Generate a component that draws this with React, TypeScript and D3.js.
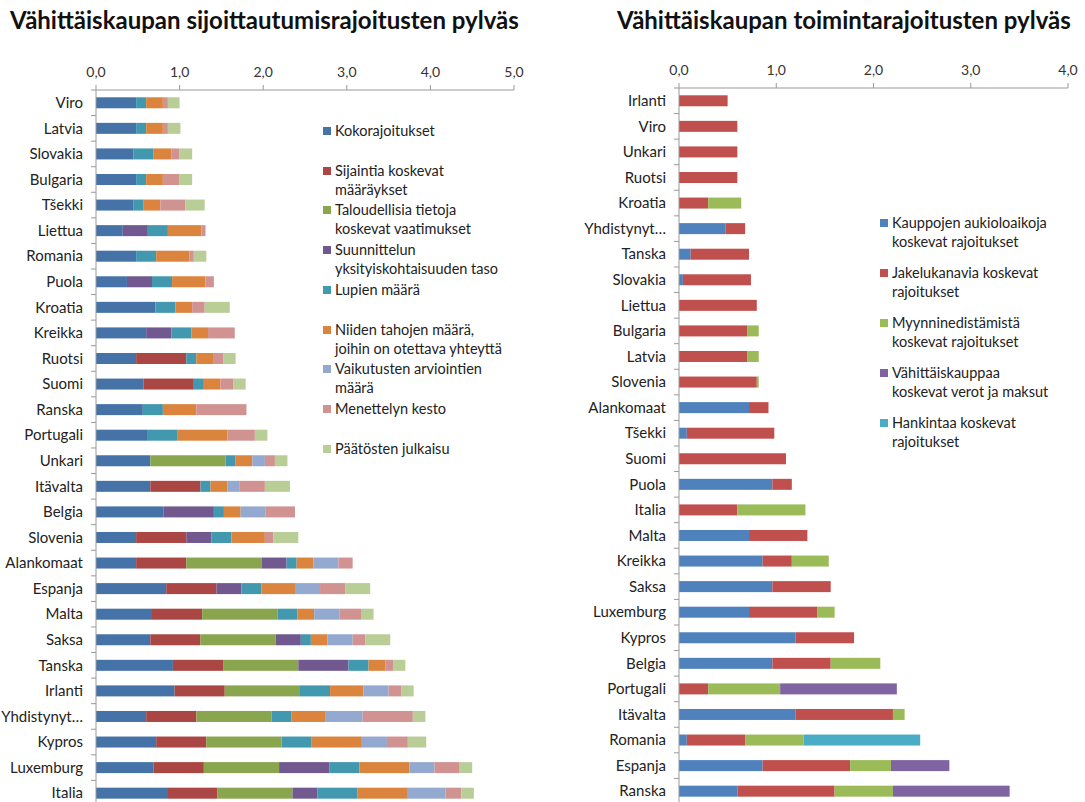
import React, { useEffect, useRef } from "react";
import * as d3 from "d3";

// --- left chart: sijoittautumisrajoitukset ---
const leftCountries = ["Viro", "Latvia", "Slovakia", "Bulgaria", "Tšekki", "Liettua", "Romania", "Puola", "Kroatia", "Kreikka", "Ruotsi", "Suomi", "Ranska", "Portugali", "Unkari", "Itävalta", "Belgia", "Slovenia", "Alankomaat", "Espanja", "Malta", "Saksa", "Tanska", "Irlanti", "Yhdistynyt…", "Kypros", "Luxemburg", "Italia"];
const leftSeriesNames = ["Kokorajoitukset", "Sijaintia koskevat määräykset", "Taloudellisia tietoja koskevat vaatimukset", "Suunnittelun yksityiskohtaisuuden taso", "Lupien määrä", "Niiden tahojen määrä, joihin on otettava yhteyttä", "Vaikutusten arviointien määrä", "Menettelyn kesto", "Päätösten julkaisu"];
const kokorajoitukset = [0.48, 0.48, 0.45, 0.48, 0.45, 0.32, 0.48, 0.37, 0.71, 0.6, 0.48, 0.57, 0.56, 0.61, 0.65, 0.65, 0.81, 0.48, 0.48, 0.84, 0.67, 0.65, 0.92, 0.94, 0.6, 0.72, 0.69, 0.85];
const sijaintia = [0, 0, 0, 0, 0, 0, 0, 0, 0, 0, 0.6, 0.6, 0, 0, 0, 0.6, 0, 0.6, 0.6, 0.6, 0.6, 0.6, 0.6, 0.6, 0.6, 0.6, 0.6, 0.6];
const taloudellisia = [0, 0, 0, 0, 0, 0, 0, 0, 0, 0, 0, 0, 0, 0, 0.9, 0, 0, 0, 0.9, 0, 0.9, 0.9, 0.9, 0.9, 0.9, 0.9, 0.9, 0.9];
const suunnittelun = [0, 0, 0, 0, 0, 0.3, 0, 0.3, 0, 0.3, 0, 0, 0, 0, 0, 0, 0.6, 0.3, 0.3, 0.3, 0, 0.3, 0.6, 0, 0, 0, 0.6, 0.3];
const lupien = [0.12, 0.12, 0.24, 0.12, 0.12, 0.24, 0.24, 0.24, 0.24, 0.24, 0.12, 0.12, 0.24, 0.36, 0.12, 0.12, 0.12, 0.24, 0.12, 0.24, 0.24, 0.12, 0.24, 0.36, 0.24, 0.36, 0.36, 0.48];
const tahojen = [0.2, 0.2, 0.21, 0.2, 0.2, 0.4, 0.4, 0.4, 0.2, 0.2, 0.2, 0.2, 0.4, 0.6, 0.2, 0.2, 0.2, 0.4, 0.2, 0.4, 0.2, 0.2, 0.2, 0.4, 0.4, 0.6, 0.6, 0.6];
const vaikutusten = [0, 0, 0, 0, 0, 0, 0, 0, 0, 0, 0, 0, 0, 0, 0.15, 0.15, 0.3, 0, 0.3, 0.3, 0.3, 0.3, 0, 0.3, 0.45, 0.3, 0.3, 0.45];
const menettelyn = [0.06, 0.06, 0.1, 0.2, 0.3, 0.05, 0.05, 0.1, 0.15, 0.32, 0.12, 0.15, 0.6, 0.33, 0.12, 0.3, 0.35, 0.1, 0.17, 0.3, 0.26, 0.15, 0.1, 0.15, 0.6, 0.25, 0.3, 0.19];
const paatosten = [0.14, 0.15, 0.15, 0.15, 0.23, 0, 0.15, 0, 0.3, 0, 0.15, 0.15, 0, 0.15, 0.15, 0.3, 0, 0.3, 0, 0.3, 0.15, 0.3, 0.14, 0.15, 0.15, 0.22, 0.15, 0.15];
const leftTicks = [0, 1, 2, 3, 4, 5];

// --- right chart: toimintarajoitukset ---
const rightCountries = ["Irlanti", "Viro", "Unkari", "Ruotsi", "Kroatia", "Yhdistynyt…", "Tanska", "Slovakia", "Liettua", "Bulgaria", "Latvia", "Slovenia", "Alankomaat", "Tšekki", "Suomi", "Puola", "Italia", "Malta", "Kreikka", "Saksa", "Luxemburg", "Kypros", "Belgia", "Portugali", "Itävalta", "Romania", "Espanja", "Ranska"];
const rightSeriesNames = ["Kauppojen aukioloaikoja koskevat rajoitukset", "Jakelukanavia koskevat rajoitukset", "Myynninedistämistä koskevat rajoitukset", "Vähittäiskauppaa koskevat verot ja maksut", "Hankintaa koskevat rajoitukset"];
const aukioloajat = [0, 0, 0, 0, 0, 0.48, 0.12, 0.04, 0, 0, 0, 0, 0.72, 0.08, 0, 0.96, 0, 0.72, 0.86, 0.96, 0.72, 1.2, 0.96, 0, 1.2, 0.08, 0.86, 0.6];
const jakelukanavat = [0.5, 0.6, 0.6, 0.6, 0.3, 0.2, 0.6, 0.7, 0.8, 0.7, 0.7, 0.8, 0.2, 0.9, 1.1, 0.2, 0.6, 0.6, 0.3, 0.6, 0.7, 0.6, 0.6, 0.3, 1.0, 0.6, 0.9, 1.0];
const myynninedistaminen = [0, 0, 0, 0, 0.34, 0, 0, 0, 0, 0.12, 0.12, 0.02, 0, 0, 0, 0, 0.7, 0, 0.38, 0, 0.18, 0, 0.51, 0.74, 0.12, 0.6, 0.42, 0.6];
const verot = [0, 0, 0, 0, 0, 0, 0, 0, 0, 0, 0, 0, 0, 0, 0, 0, 0, 0, 0, 0, 0, 0, 0, 1.2, 0, 0, 0.6, 1.2];
const hankinta = [0, 0, 0, 0, 0, 0, 0, 0, 0, 0, 0, 0, 0, 0, 0, 0, 0, 0, 0, 0, 0, 0, 0, 0, 0, 1.2, 0, 0];
const rightTicks = [0, 1, 2, 3, 4];

const leftColors = ["#4572A7", "#AA4643", "#89A54E", "#71588F", "#4198AF", "#DB843D", "#93A9CF", "#D19392", "#B9CD96"];
const rightColors = ["#4F81BD", "#C0504D", "#9BBB59", "#8064A2", "#4BACC6"];

// legend lines (wrapped like the original)
const leftLegend = [
  { lines: ["Kokorajoitukset"], y: 131 },
  { lines: ["Sijaintia koskevat", "määräykset"], y: 171 },
  { lines: ["Taloudellisia tietoja", "koskevat vaatimukset"], y: 210 },
  { lines: ["Suunnittelun", "yksityiskohtaisuuden taso"], y: 250 },
  { lines: ["Lupien määrä"], y: 290 },
  { lines: ["Niiden tahojen määrä,", "joihin on otettava yhteyttä"], y: 330 },
  { lines: ["Vaikutusten arviointien", "määrä"], y: 369 },
  { lines: ["Menettelyn kesto"], y: 409 },
  { lines: ["Päätösten julkaisu"], y: 449 },
];
const rightLegend = [
  { lines: ["Kauppojen aukioloaikoja", "koskevat rajoitukset"], y: 223 },
  { lines: ["Jakelukanavia koskevat", "rajoitukset"], y: 273 },
  { lines: ["Myynninedistämistä", "koskevat rajoitukset"], y: 323 },
  { lines: ["Vähittäiskauppaa", "koskevat verot ja maksut"], y: 373 },
  { lines: ["Hankintaa koskevat", "rajoitukset"], y: 423 },
];

const FONT = "Lato, 'Open Sans', sans-serif";

function drawChart(svg, opts) {
  const { title, titleX, countries, series, colors, ticks, x0, x1, yTop, labelX, legend, legX } = opts;
  const n = countries.length;
  const step = 25.57;
  const x = d3.scaleLinear().domain([0, ticks[ticks.length - 1]]).range([x0, x1]);
  const y = d3.scaleBand().domain(countries).range([yTop, yTop + step * n]).paddingInner(0.57).paddingOuter(0.285);

  svg.append("text").attr("x", titleX).attr("y", 29).attr("font-family", FONT).attr("font-weight", 700)
    .attr("font-size", 24).attr("fill", "#111").text(title);

  // stacked data
  const rows = countries.map((c, i) => {
    const r = { country: c };
    series.forEach((s, k) => { r["s" + k] = s[i]; });
    return r;
  });
  const stack = d3.stack().keys(series.map((_, k) => "s" + k));
  const layers = stack(rows);

  const g = svg.append("g");
  layers.forEach((layer, k) => {
    g.selectAll(null).data(layer.filter(d => d[1] - d[0] > 0)).enter().append("rect")
      .attr("x", d => x(d[0]))
      .attr("width", d => x(d[1]) - x(d[0]))
      .attr("y", d => y(d.data.country))
      .attr("height", y.bandwidth())
      .attr("fill", colors[k]);
  });

  // top axis
  const axis = svg.append("g");
  axis.append("line").attr("x1", x0).attr("x2", x1).attr("y1", yTop).attr("y2", yTop).attr("stroke", "#999");
  ticks.forEach(t => {
    axis.append("line").attr("x1", x(t)).attr("x2", x(t)).attr("y1", yTop - 5).attr("y2", yTop).attr("stroke", "#999");
    axis.append("text").attr("x", x(t)).attr("y", yTop - 13).attr("text-anchor", "middle")
      .attr("font-family", FONT).attr("font-size", 14).attr("fill", "#333")
      .text(d3.format(".1f")(t).replace(".", ","));
  });

  // category axis
  axis.append("line").attr("x1", x0).attr("x2", x0).attr("y1", yTop).attr("y2", yTop + step * n).attr("stroke", "#999");
  d3.range(n + 1).forEach(i => {
    const yy = yTop + step * i;
    axis.append("line").attr("x1", x0 - 5).attr("x2", x0).attr("y1", yy).attr("y2", yy).attr("stroke", "#999");
  });
  countries.forEach(c => {
    axis.append("text").attr("x", labelX).attr("y", y(c) + y.bandwidth() / 2).attr("dy", "0.35em")
      .attr("text-anchor", "end").attr("font-family", FONT).attr("font-size", 15).attr("fill", "#222").text(c);
  });

  // legend
  const lg = svg.append("g");
  legend.forEach((item, k) => {
    lg.append("rect").attr("x", legX).attr("y", item.y - 4).attr("width", 8).attr("height", 8).attr("fill", colors[k]);
    item.lines.forEach((line, j) => {
      lg.append("text").attr("x", legX + 12).attr("y", item.y + j * 19).attr("dy", "0.35em")
        .attr("font-family", FONT).attr("font-size", 14.5).attr("fill", "#222").text(line);
    });
  });
}

export default function App() {
  const ref = useRef(null);

  useEffect(() => {
    const svg = d3.select(ref.current);
    svg.selectAll("*").remove();
    drawChart(svg, {
      title: "Vähittäiskaupan sijoittautumisrajoitusten pylväs",
      titleX: 10,
      countries: leftCountries,
      series: [kokorajoitukset, sijaintia, taloudellisia, suunnittelun, lupien, tahojen, vaikutusten, menettelyn, paatosten],
      colors: leftColors,
      ticks: leftTicks,
      x0: 96, x1: 514, yTop: 90, labelX: 83,
      legend: leftLegend, legX: 323,
    });
    drawChart(svg, {
      title: "Vähittäiskaupan toimintarajoitusten pylväs",
      titleX: 617,
      countries: rightCountries,
      series: [aukioloajat, jakelukanavat, myynninedistaminen, verot, hankinta],
      colors: rightColors,
      ticks: rightTicks,
      x0: 679, x1: 1068, yTop: 88, labelX: 666,
      legend: rightLegend, legX: 880,
    });
  }, []);

  return (
    <svg ref={ref} width={1085} height={802}
      style={{ position: "absolute", left: 0, top: 0, background: "#fff" }}>
      <title>{leftSeriesNames.concat(rightSeriesNames).join(", ")}</title>
    </svg>
  );
}
